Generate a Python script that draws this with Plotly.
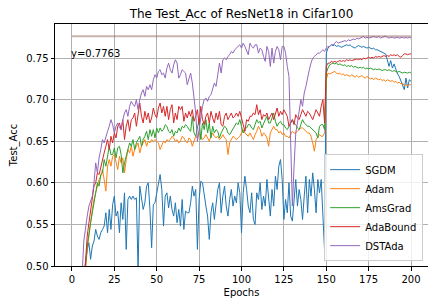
import plotly.graph_objects as go

epochs = list(range(201))

sgdm = [
    0.100, 0.220, 0.300, 0.360, 0.400, 0.430, 0.450, 0.470, 0.504, 0.520,
    0.528, 0.508, 0.524, 0.530, 0.544, 0.536, 0.532, 0.540, 0.544, 0.548,
    0.564, 0.540, 0.568, 0.544, 0.574, 0.584, 0.560, 0.566, 0.540, 0.576,
    0.556, 0.588, 0.520, 0.580, 0.584, 0.580, 0.584, 0.580, 0.582, 0.496,
    0.596, 0.580, 0.568, 0.576, 0.596, 0.600, 0.568, 0.522, 0.574, 0.576,
    0.588, 0.596, 0.610, 0.592, 0.548, 0.584, 0.588, 0.570, 0.584, 0.568,
    0.560, 0.576, 0.552, 0.568, 0.548, 0.580, 0.544, 0.566, 0.564, 0.564,
    0.576, 0.596, 0.584, 0.592, 0.520, 0.580, 0.602, 0.600, 0.584, 0.572,
    0.560, 0.532, 0.564, 0.576, 0.556, 0.572, 0.592, 0.600, 0.564, 0.584,
    0.596, 0.572, 0.560, 0.580, 0.592, 0.572, 0.584, 0.576, 0.600, 0.588,
    0.540, 0.588, 0.608, 0.592, 0.572, 0.564, 0.588, 0.556, 0.550, 0.588,
    0.580, 0.600, 0.568, 0.584, 0.572, 0.604, 0.580, 0.560, 0.592, 0.572,
    0.608, 0.592, 0.620, 0.628, 0.604, 0.556, 0.580, 0.564, 0.600, 0.560,
    0.554, 0.580, 0.604, 0.572, 0.592, 0.580, 0.556, 0.584, 0.608, 0.564,
    0.604, 0.584, 0.612, 0.592, 0.564, 0.604, 0.588, 0.604, 0.568, 0.518,
    0.756, 0.762, 0.764, 0.766, 0.765, 0.766, 0.764, 0.765, 0.764, 0.763,
    0.764, 0.765, 0.766, 0.765, 0.766, 0.764, 0.763, 0.762, 0.764, 0.765,
    0.764, 0.763, 0.764, 0.763, 0.762, 0.763, 0.762, 0.761, 0.762, 0.760,
    0.760, 0.759, 0.758, 0.757, 0.756, 0.755, 0.748, 0.740, 0.747, 0.738,
    0.743, 0.736, 0.731, 0.728, 0.722, 0.716, 0.712, 0.726, 0.714, 0.724, 0.722,
]

adam = [
    0.130, 0.250, 0.330, 0.380, 0.420, 0.450, 0.465, 0.480, 0.495, 0.520,
    0.536, 0.556, 0.568, 0.580, 0.588, 0.596, 0.604, 0.608, 0.616, 0.604,
    0.590, 0.620, 0.628, 0.620, 0.632, 0.634, 0.624, 0.616, 0.632, 0.624,
    0.630, 0.612, 0.628, 0.640, 0.636, 0.644, 0.632, 0.640, 0.644, 0.648,
    0.636, 0.644, 0.648, 0.652, 0.644, 0.650, 0.648, 0.652, 0.650, 0.652,
    0.650, 0.648, 0.640, 0.646, 0.650, 0.648, 0.652, 0.650, 0.652, 0.656,
    0.654, 0.650, 0.652, 0.648, 0.650, 0.656, 0.654, 0.650, 0.648, 0.654,
    0.652, 0.644, 0.650, 0.656, 0.654, 0.660, 0.656, 0.652, 0.654, 0.658,
    0.654, 0.650, 0.656, 0.660, 0.656, 0.654, 0.656, 0.652, 0.654, 0.658,
    0.654, 0.652, 0.634, 0.648, 0.652, 0.656, 0.654, 0.652, 0.654, 0.656,
    0.660, 0.664, 0.660, 0.658, 0.656, 0.660, 0.656, 0.652, 0.658, 0.662,
    0.668, 0.664, 0.656, 0.660, 0.658, 0.654, 0.644, 0.660, 0.664, 0.668,
    0.664, 0.664, 0.660, 0.662, 0.658, 0.660, 0.656, 0.656, 0.654, 0.658,
    0.662, 0.660, 0.660, 0.662, 0.664, 0.666, 0.666, 0.664, 0.662, 0.660,
    0.660, 0.656, 0.648, 0.638, 0.652, 0.656, 0.658, 0.656, 0.656, 0.660,
    0.724, 0.732, 0.731, 0.732, 0.733, 0.734, 0.732, 0.731, 0.732, 0.730,
    0.731, 0.729, 0.730, 0.729, 0.728, 0.730, 0.728, 0.727, 0.729, 0.727,
    0.728, 0.729, 0.727, 0.726, 0.728, 0.726, 0.725, 0.726, 0.724, 0.726,
    0.725, 0.724, 0.725, 0.723, 0.724, 0.722, 0.724, 0.723, 0.722, 0.723,
    0.721, 0.722, 0.720, 0.721, 0.719, 0.720, 0.717, 0.718, 0.717, 0.718, 0.718,
]

amsgrad = [
    0.140, 0.260, 0.340, 0.390, 0.430, 0.455, 0.470, 0.485, 0.500, 0.524,
    0.540, 0.552, 0.564, 0.576, 0.592, 0.600, 0.596, 0.610, 0.612, 0.628,
    0.620, 0.632, 0.644, 0.634, 0.634, 0.642, 0.630, 0.642, 0.644, 0.634,
    0.612, 0.624, 0.632, 0.640, 0.648, 0.644, 0.652, 0.640, 0.648, 0.652,
    0.656, 0.644, 0.652, 0.656, 0.662, 0.652, 0.664, 0.656, 0.664, 0.654,
    0.666, 0.660, 0.666, 0.662, 0.664, 0.670, 0.668, 0.662, 0.660, 0.664,
    0.656, 0.662, 0.660, 0.666, 0.662, 0.668, 0.666, 0.670, 0.668, 0.664,
    0.662, 0.680, 0.660, 0.656, 0.668, 0.676, 0.652, 0.672, 0.664, 0.676,
    0.660, 0.672, 0.654, 0.668, 0.660, 0.664, 0.662, 0.654, 0.660, 0.664,
    0.668, 0.666, 0.660, 0.658, 0.662, 0.664, 0.668, 0.672, 0.670, 0.676,
    0.668, 0.660, 0.664, 0.666, 0.670, 0.670, 0.666, 0.664, 0.670, 0.676,
    0.672, 0.674, 0.666, 0.670, 0.676, 0.680, 0.672, 0.672, 0.678, 0.684,
    0.674, 0.668, 0.672, 0.674, 0.670, 0.670, 0.666, 0.664, 0.668, 0.672,
    0.676, 0.672, 0.670, 0.666, 0.664, 0.670, 0.676, 0.672, 0.670, 0.668,
    0.668, 0.666, 0.664, 0.662, 0.660, 0.654, 0.668, 0.670, 0.670, 0.664,
    0.732, 0.738, 0.742, 0.743, 0.744, 0.743, 0.744, 0.742, 0.743, 0.742,
    0.741, 0.742, 0.740, 0.741, 0.740, 0.741, 0.739, 0.740, 0.739, 0.738,
    0.739, 0.738, 0.739, 0.737, 0.738, 0.737, 0.738, 0.737, 0.736, 0.737,
    0.736, 0.737, 0.736, 0.735, 0.736, 0.736, 0.735, 0.736, 0.735, 0.734,
    0.735, 0.734, 0.733, 0.734, 0.733, 0.732, 0.733, 0.732, 0.732, 0.733, 0.732,
]

adabound = [
    0.150, 0.270, 0.350, 0.400, 0.440, 0.460, 0.475, 0.488, 0.505, 0.536,
    0.552, 0.568, 0.584, 0.596, 0.600, 0.612, 0.610, 0.620, 0.630, 0.636,
    0.644, 0.652, 0.640, 0.656, 0.648, 0.660, 0.654, 0.668, 0.672, 0.664,
    0.676, 0.652, 0.668, 0.676, 0.662, 0.676, 0.678, 0.684, 0.668, 0.680,
    0.696, 0.680, 0.672, 0.686, 0.676, 0.684, 0.672, 0.678, 0.690, 0.682,
    0.678, 0.690, 0.696, 0.684, 0.692, 0.680, 0.692, 0.676, 0.688, 0.694,
    0.672, 0.684, 0.676, 0.692, 0.688, 0.692, 0.674, 0.684, 0.678, 0.686,
    0.680, 0.688, 0.674, 0.680, 0.688, 0.670, 0.692, 0.676, 0.670, 0.680,
    0.684, 0.672, 0.686, 0.678, 0.672, 0.684, 0.676, 0.686, 0.670, 0.668,
    0.680, 0.684, 0.676, 0.680, 0.684, 0.678, 0.680, 0.684, 0.680, 0.686,
    0.676, 0.670, 0.662, 0.676, 0.674, 0.680, 0.680, 0.684, 0.682, 0.694,
    0.682, 0.688, 0.676, 0.682, 0.680, 0.684, 0.676, 0.680, 0.684, 0.676,
    0.684, 0.690, 0.680, 0.686, 0.682, 0.688, 0.684, 0.680, 0.668, 0.672,
    0.676, 0.670, 0.682, 0.678, 0.676, 0.682, 0.688, 0.684, 0.680, 0.686,
    0.684, 0.680, 0.676, 0.682, 0.688, 0.684, 0.680, 0.692, 0.700, 0.672,
    0.740, 0.744, 0.744, 0.746, 0.745, 0.746, 0.745, 0.746, 0.747, 0.746,
    0.747, 0.746, 0.748, 0.747, 0.748, 0.747, 0.748, 0.748, 0.749, 0.748,
    0.749, 0.748, 0.750, 0.749, 0.750, 0.751, 0.750, 0.751, 0.750, 0.752,
    0.751, 0.752, 0.751, 0.752, 0.753, 0.752, 0.753, 0.752, 0.754, 0.753,
    0.754, 0.753, 0.754, 0.752, 0.751, 0.753, 0.755, 0.755, 0.754, 0.755, 0.755,
]

dstada = [
    0.200, 0.320, 0.380, 0.420, 0.450, 0.470, 0.490, 0.530, 0.548, 0.560,
    0.572, 0.578, 0.584, 0.600, 0.624, 0.612, 0.630, 0.640, 0.652, 0.648,
    0.656, 0.662, 0.668, 0.676, 0.670, 0.660, 0.668, 0.672, 0.666, 0.664,
    0.676, 0.684, 0.688, 0.680, 0.692, 0.698, 0.694, 0.692, 0.700, 0.688,
    0.700, 0.708, 0.712, 0.704, 0.716, 0.712, 0.718, 0.712, 0.724, 0.730,
    0.726, 0.734, 0.736, 0.730, 0.732, 0.726, 0.738, 0.744, 0.736, 0.732,
    0.742, 0.748, 0.744, 0.726, 0.730, 0.736, 0.734, 0.732, 0.718, 0.726,
    0.732, 0.720, 0.700, 0.684, 0.650, 0.664, 0.680, 0.692, 0.700, 0.702,
    0.698, 0.704, 0.706, 0.712, 0.720, 0.716, 0.730, 0.744, 0.732, 0.748,
    0.750, 0.748, 0.752, 0.754, 0.758, 0.756, 0.760, 0.762, 0.764, 0.766,
    0.762, 0.768, 0.764, 0.758, 0.754, 0.768, 0.764, 0.762, 0.766, 0.766,
    0.756, 0.762, 0.760, 0.752, 0.746, 0.764, 0.758, 0.740, 0.762, 0.744,
    0.758, 0.764, 0.760, 0.748, 0.764, 0.764, 0.756, 0.740, 0.728, 0.650,
    0.572, 0.620, 0.660, 0.672, 0.684, 0.700, 0.692, 0.708, 0.716, 0.728,
    0.736, 0.744, 0.750, 0.752, 0.754, 0.756, 0.756, 0.758, 0.760, 0.758,
    0.762, 0.764, 0.764, 0.766, 0.766, 0.768, 0.770, 0.768, 0.769, 0.770,
    0.770, 0.771, 0.770, 0.772, 0.771, 0.772, 0.773, 0.772, 0.774, 0.773,
    0.774, 0.775, 0.776, 0.774, 0.775, 0.774, 0.775, 0.775, 0.776, 0.775,
    0.775, 0.776, 0.774, 0.775, 0.776, 0.7763, 0.775, 0.774, 0.775, 0.775,
    0.774, 0.775, 0.775, 0.774, 0.775, 0.775, 0.774, 0.775, 0.774, 0.775, 0.774,
]

series_names = ["SGDM", "Adam", "AmsGrad", "AdaBound", "DSTAda"]
series_values = [sgdm, adam, amsgrad, adabound, dstada]
colors = ["#1f77b4", "#ff7f0e", "#2ca02c", "#d62728", "#9467bd"]
xticks = [0, 25, 50, 75, 100, 125, 150, 175, 200]
yticks = [0.50, 0.55, 0.60, 0.65, 0.70, 0.75]

best = max(dstada)

FONT = "DejaVu Sans, Verdana, sans-serif"
# the page body has a default 8px margin, so the figure is 8px smaller
# and its margins are reduced by 8px on the left/top
W, H, OFF = 428, 300, 8

fig = go.Figure()
for name, vals, col in zip(series_names, series_values, colors):
    fig.add_trace(go.Scatter(x=epochs, y=vals, mode="lines", name=name,
                             line=dict(color=col, width=1)))

fig.add_shape(type="line", xref="x", yref="y", x0=epochs[0], x1=epochs[-1],
              y0=best, y1=best, line=dict(color="rgba(140,86,75,0.45)", width=2),
              layer="above")
fig.add_annotation(x=epochs[0], y=0.75, xref="x", yref="y", text=f"y={best:.4f}",
                   showarrow=False, xanchor="left", yanchor="bottom", yshift=-3,
                   xshift=-3,
                   font=dict(size=10, color="black", family=FONT))

axis_common = dict(showline=True, linecolor="black", linewidth=1, mirror=True,
                   ticks="outside", ticklen=3.5, tickwidth=1, tickcolor="black",
                   showgrid=True, gridcolor="#b0b0b0", gridwidth=0.8,
                   zeroline=False, automargin=False,
                   tickfont=dict(size=10, color="black", family=FONT))

fig.update_layout(
    width=W, height=H,
    margin=dict(l=55 - OFF, r=8, t=24 - OFF, b=42, autoexpand=False),
    paper_bgcolor="white", plot_bgcolor="white",
    font=dict(family=FONT, color="black", size=10),
    title=dict(text="The Test_Acc of ResNet18 in Cifar100", x=0.5, xref="paper",
               y=1 - (13.5 - OFF) / H, yref="container", yanchor="middle",
               automargin=False,
               font=dict(size=12, color="black", family=FONT)),
    xaxis=dict(range=[-10, 210], tickvals=xticks,
               title=dict(text="Epochs", standoff=5, font=dict(size=10)),
               **axis_common),
    yaxis=dict(range=[0.5, 0.791], tickvals=yticks, tickformat=".2f",
               title=dict(text="Test_Acc", standoff=6, font=dict(size=10)),
               **axis_common),
    legend=dict(x=0.987, y=0.02, xanchor="right", yanchor="bottom",
                bgcolor="rgba(255,255,255,0.8)", bordercolor="#cccccc", borderwidth=1,
                font=dict(size=10, color="black", family=FONT),
                itemwidth=30, tracegroupgap=0),
    showlegend=True,
)

fig.write_html("out.html", config={"displayModeBar": False})
